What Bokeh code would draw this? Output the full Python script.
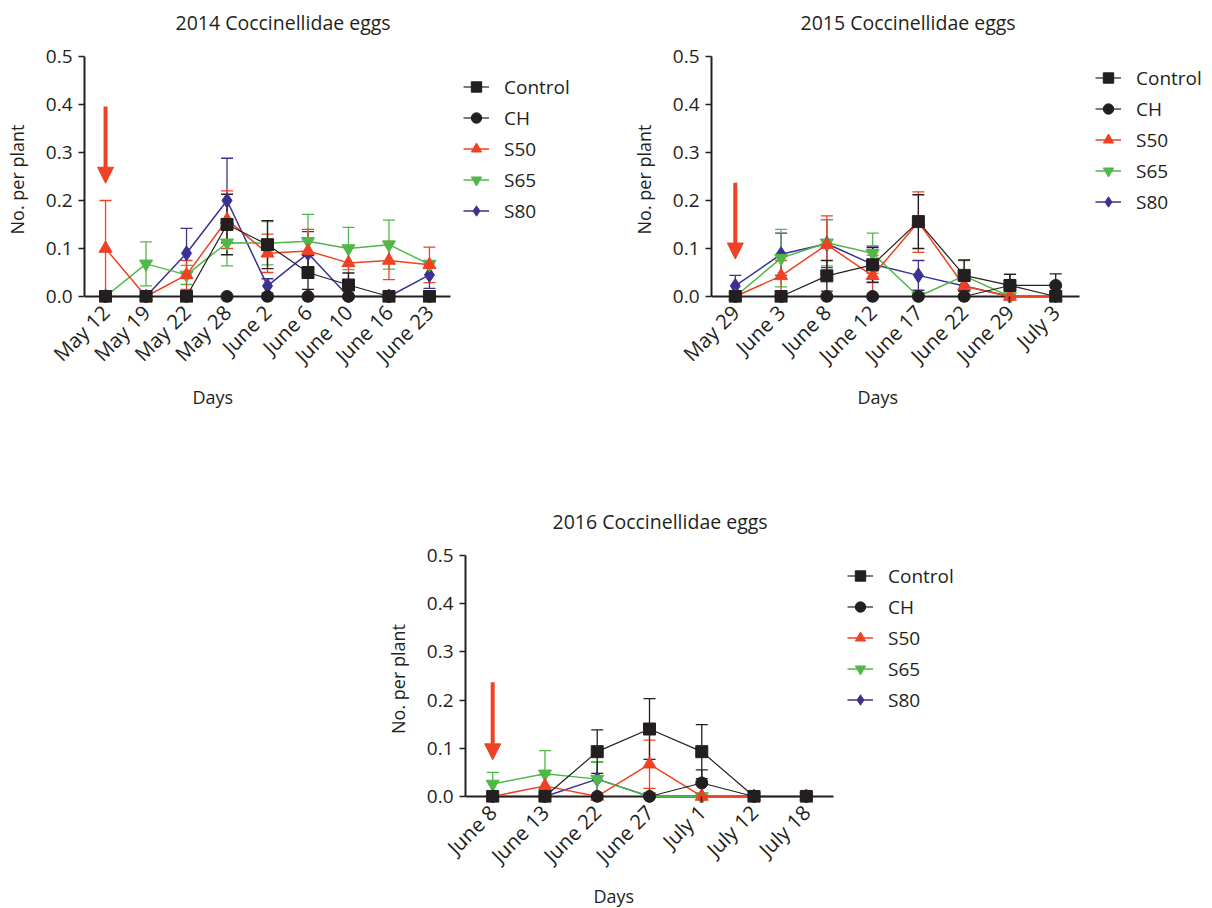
import math
from bokeh.plotting import figure
from bokeh.models import (ColumnDataSource, Whisker, TeeHead, Arrow, NormalHead, Legend,
                          LegendItem, Range1d, FixedTicker, Title, Spacer, PrintfTickFormatter)
from bokeh.layouts import column, row
from bokeh.embed import file_html
from bokeh.resources import INLINE

# ---------------- data ----------------
days_2014 = ["May 12", "May 19", "May 22", "May 28", "June 2", "June 6", "June 10", "June 16", "June 23"]
control_2014 = [0, 0, 0, 0.15, 0.108, 0.05, 0.024, 0, 0]
control_2014_err = [0, 0, 0, 0.063, 0.05, 0.035, 0.025, 0, 0]
ch_2014 = [0, 0, 0, 0, 0, 0, 0, 0, 0]
ch_2014_err = [0, 0, 0, 0, 0, 0, 0, 0, 0]
s50_2014 = [0.1, 0, 0.045, 0.16, 0.09, 0.095, 0.07, 0.075, 0.066]
s50_2014_err = [0.1, 0, 0.03, 0.06, 0.04, 0.045, 0.035, 0.04, 0.037]
s65_2014 = [0, 0.068, 0.045, 0.112, 0.111, 0.115, 0.1, 0.108, 0.067]
s65_2014_err = [0, 0.046, 0.02, 0.048, 0.045, 0.056, 0.044, 0.051, 0.008]
s80_2014 = [0, 0, 0.09, 0.2, 0.022, 0.09, 0, 0, 0.045]
s80_2014_err = [0, 0, 0.052, 0.088, 0.015, 0.045, 0, 0, 0.028]

days_2015 = ["May 29", "June 3", "June 8", "June 12", "June 17", "June 22", "June 29", "July 3"]
control_2015 = [0, 0, 0.043, 0.066, 0.156, 0.044, 0.023, 0]
control_2015_err = [0, 0, 0.032, 0.036, 0.056, 0.032, 0.023, 0]
ch_2015 = [0, 0, 0, 0, 0, 0, 0.023, 0.023]
ch_2015_err = [0, 0, 0, 0, 0, 0, 0.023, 0.024]
s50_2015 = [0, 0.043, 0.108, 0.043, 0.155, 0.022, 0, 0]
s50_2015_err = [0, 0.032, 0.06, 0.043, 0.063, 0.01, 0, 0]
s65_2015 = [0, 0.08, 0.112, 0.09, 0, 0.043, 0, 0]
s65_2015_err = [0, 0.06, 0.048, 0.042, 0, 0.032, 0, 0]
s80_2015 = [0.022, 0.088, 0.11, 0.067, 0.044, 0.022, 0, 0]
s80_2015_err = [0.022, 0.044, 0.05, 0.038, 0.031, 0.01, 0, 0]

days_2016 = ["June 8", "June 13", "June 22", "June 27", "July 1", "July 12", "July 18"]
control_2016 = [0, 0, 0.093, 0.14, 0.093, 0, 0]
control_2016_err = [0, 0, 0.045, 0.063, 0.056, 0, 0]
ch_2016 = [0, 0, 0, 0, 0.028, 0, 0]
ch_2016_err = [0, 0, 0, 0, 0.027, 0, 0]
s50_2016 = [0, 0.022, 0, 0.067, 0, 0, 0]
s50_2016_err = [0, 0.023, 0, 0.05, 0, 0, 0]
s65_2016 = [0.026, 0.047, 0.036, 0, 0, 0, 0]
s65_2016_err = [0.024, 0.048, 0.035, 0, 0, 0, 0]
s80_2016 = [0, 0, 0.036, 0, 0, 0, 0]
s80_2016_err = [0, 0, 0.035, 0, 0, 0, 0]

series_names = ["Control", "CH", "S50", "S65", "S80"]
y_ticks = [0.0, 0.1, 0.2, 0.3, 0.4, 0.5]
titles = ["2014 Coccinellidae eggs", "2015 Coccinellidae eggs", "2016 Coccinellidae eggs"]
# treatment arrows (drawn at first sampling date): start and end values
arrow_y_start = [0.396, 0.237, 0.237]
arrow_y_end = [0.236, 0.078, 0.076]

# ---------------- style ----------------
FONT = "Open Sans"
BLACK = "#231f20"
RED = "#ef4123"
GREEN = "#50b848"
BLUE = "#3b3192"
STYLES = {
    "Control": dict(color=BLACK, marker="square", size=12, lw=1.2),
    "CH": dict(color=BLACK, marker="circle", size=12, lw=1.2),
    "S50": dict(color=RED, marker="triangle", size=13, lw=1.5),
    "S65": dict(color=GREEN, marker="inverted_triangle", size=13, lw=1.5),
    "S80": dict(color=BLUE, marker="diamond", size=15, lw=1.5),
}
PAD = 0.52  # category padding at both ends of the x axis


def make_panel(title, days, values, errors, arrow_idx, geo):
    n = len(days)
    x = list(range(n))
    x_lo, x_hi = -PAD, n - 1 + PAD
    frame_w = geo["w"] - geo["bl"] - geo["br"]
    # the frame is wider than the axis so the legend can sit inside it, right of the axis
    x_end = x_lo + (x_hi - x_lo) * frame_w / geo["axw"]
    p = figure(width=geo["w"], height=geo["h"],
               min_border_left=geo["bl"], min_border_right=geo["br"],
               min_border_top=geo["bt"], min_border_bottom=geo["bb"],
               x_range=Range1d(x_lo, x_end), y_range=Range1d(-0.0125, 0.5),
               output_backend="svg", toolbar_location=None, title=None)
    p.xgrid.visible = False
    p.ygrid.visible = False
    p.outline_line_color = None
    p.background_fill_color = "white"
    p.border_fill_color = "white"

    # axes
    xa = p.xaxis[0]
    xa.ticker = FixedTicker(ticks=x)
    xa.major_label_overrides = {i: d for i, d in enumerate(days)}
    xa.major_label_orientation = math.pi / 4
    ya = p.yaxis[0]
    ya.ticker = FixedTicker(ticks=y_ticks)
    ya.formatter = PrintfTickFormatter(format="%.1f")
    ya.bounds = (0, 0.5)
    ya.axis_label = "No. per plant"
    ya.axis_label_standoff = 14
    for ax in (xa, ya):
        ax.axis_line_width = 2
        ax.axis_line_color = BLACK
        ax.major_tick_line_width = 1.5
        ax.major_tick_line_color = BLACK
        ax.major_tick_in = 0
        ax.major_tick_out = 6
        ax.minor_tick_line_color = None
        ax.major_label_text_font = FONT
        ax.major_label_text_font_size = "19px"
        ax.major_label_text_color = BLACK
        ax.major_label_standoff = 6
        ax.axis_label_text_font = FONT
        ax.axis_label_text_font_size = "18px"
        ax.axis_label_text_font_style = "normal"
        ax.axis_label_text_color = BLACK
    xa.major_label_text_font_size = "20.5px"
    # the visible x axis line sits at y = 0; ticks run from it down past the frame edge
    xa.axis_line_color = None
    xa.major_tick_in = 6
    xa.major_tick_out = 0
    p.segment(x0=[x_lo], y0=[0], x1=[x_hi], y1=[0], line_color=BLACK, line_width=2)

    # titles
    p.add_layout(Title(text=" ", text_font_size="17px", standoff=0), "above")
    p.add_layout(Title(text=title, align="left", offset=geo["toff"], text_font=FONT,
                       text_font_size="19.5px", text_font_style="normal", text_color=BLACK,
                       standoff=0), "above")
    p.add_layout(Title(text="Days", align="left", offset=geo["doff"], text_font=FONT,
                       text_font_size="18px", text_font_style="normal", text_color=BLACK,
                       standoff=geo["dstand"]), "below")

    # series, drawn bottom to top
    items = {}
    for name in reversed(series_names):
        st = STYLES[name]
        v = values[name]
        e = errors[name]
        wx = [xi for xi, ei in zip(x, e) if ei > 0]
        wu = [vi + ei for vi, ei in zip(v, e) if ei > 0]
        wl = [max(vi - ei, 0) for vi, ei in zip(v, e) if ei > 0]
        if wx:
            wsrc = ColumnDataSource(dict(x=wx, upper=wu, lower=wl))
            w = Whisker(source=wsrc, base="x", upper="upper", lower="lower",
                        line_color=st["color"], line_width=1.3,
                        upper_head=TeeHead(size=12, line_color=st["color"], line_width=1.3),
                        lower_head=TeeHead(size=12, line_color=st["color"], line_width=1.3))
            p.add_layout(w)
        src = ColumnDataSource(dict(x=x, y=v))
        lr = p.line("x", "y", source=src, line_color=st["color"], line_width=st["lw"])
        sr = p.scatter("x", "y", source=src, marker=st["marker"], size=st["size"],
                       fill_color=st["color"], line_color=st["color"])
        items[name] = [lr, sr]

    # treatment arrow
    p.add_layout(Arrow(end=NormalHead(size=16, fill_color=RED, line_color=RED, line_width=1),
                       x_start=0, y_start=arrow_y_start[arrow_idx],
                       x_end=0, y_end=arrow_y_end[arrow_idx],
                       line_color=RED, line_width=4))

    legend = Legend(items=[LegendItem(label=nm, renderers=items[nm]) for nm in series_names],
                    location=(geo["axw"] + geo["lx"], geo["ly"]),
                    glyph_width=26, glyph_height=31, label_height=31,
                    spacing=0, padding=0, margin=0, label_standoff=15,
                    label_text_font=FONT, label_text_font_size="19px", label_text_color=BLACK,
                    border_line_alpha=0, background_fill_alpha=0)
    p.add_layout(legend)
    return p


def pack(*arrs):
    return dict(zip(series_names, arrs))


p1 = make_panel(titles[0], days_2014,
                pack(control_2014, ch_2014, s50_2014, s65_2014, s80_2014),
                pack(control_2014_err, ch_2014_err, s50_2014_err, s65_2014_err, s80_2014_err),
                0, dict(w=600, h=500, bl=84, br=4, bt=55, bb=198, axw=366, toff=91,
                        doff=108, dstand=2, lx=13, ly=76))
p2 = make_panel(titles[1], days_2015,
                pack(control_2015, ch_2015, s50_2015, s65_2015, s80_2015),
                pack(control_2015_err, ch_2015_err, s50_2015_err, s65_2015_err, s80_2015_err),
                1, dict(w=612, h=500, bl=111, br=4, bt=56, bb=197, axw=368, toff=89,
                        doff=146, dstand=2, lx=16, ly=85))
p3 = make_panel(titles[2], days_2016,
                pack(control_2016, ch_2016, s50_2016, s65_2016, s80_2016),
                pack(control_2016_err, ch_2016_err, s50_2016_err, s65_2016_err, s80_2016_err),
                2, dict(w=602, h=408, bl=84, br=4, bt=55, bb=106, axw=368, toff=87,
                        doff=128, dstand=1, lx=14, ly=87))

layout = column(row(p1, p2), row(Spacer(width=381, height=10), p3))
open("out.html", "w").write(file_html(layout, INLINE))
